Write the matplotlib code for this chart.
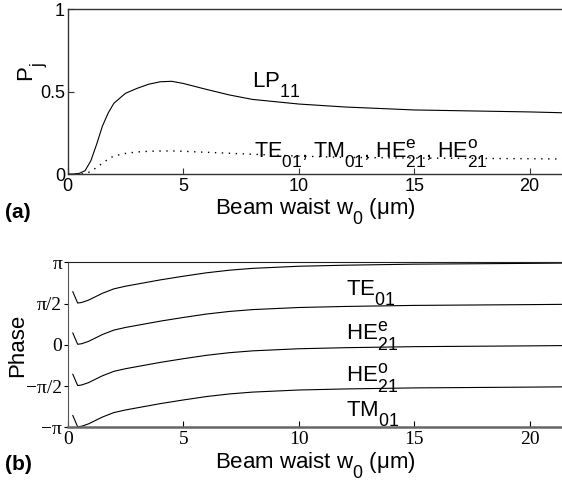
import numpy as np
import matplotlib
matplotlib.use('Agg')
import matplotlib.pyplot as plt
import matplotlib._mathtext as mathtext_internal

# Крупные и низко опущенные индексы, как в исходном рисунке.
mathtext_internal.SHRINK_FACTOR = 0.8
mathtext_internal.FontConstantsBase.sub1 = 0.9
mathtext_internal.FontConstantsBase.sub2 = 0.9
mathtext_internal.FontConstantsBase.script_space = 0.02

plt.rcParams['font.family'] = ['Liberation Sans', 'DejaVu Sans']
plt.rcParams['mathtext.fontset'] = 'custom'
plt.rcParams['mathtext.rm'] = 'Liberation Sans'
plt.rcParams['mathtext.it'] = 'Liberation Sans:italic'
plt.rcParams['mathtext.default'] = 'regular'

# Данные панели (a): доли мощности.
w_power = [0, 0.3, 0.5, 0.75, 1.0, 1.25, 1.5, 1.75, 2.0, 2.5, 3, 3.5, 4, 4.5,
           5, 6, 7, 8, 10, 12, 15, 20, 21.4]
p_lp11 = [0, 0, 0.004, 0.02, 0.08, 0.18, 0.29, 0.37, 0.43, 0.49, 0.52, 0.545,
          0.56, 0.563, 0.55, 0.514, 0.48, 0.453, 0.425, 0.407, 0.389, 0.377, 0.372]
p_modes = [0, 0, 0, 0.002, 0.015, 0.04, 0.065, 0.09, 0.11, 0.125, 0.134, 0.138,
           0.14, 0.14, 0.138, 0.132, 0.126, 0.12, 0.109, 0.101, 0.097, 0.093, 0.091]

# Данные панели (b): набег фазы относительно начального значения.
w_phase = [0.22, 0.43, 0.6, 0.9, 1.2, 1.5, 2.0, 2.5, 3, 4, 5, 6, 7, 8, 10, 12,
           15, 20, 21.4]
phase_rise = [0.45, 0.02, 0.04, 0.13, 0.26, 0.39, 0.56, 0.66, 0.74, 0.90, 1.04,
              1.17, 1.27, 1.34, 1.42, 1.46, 1.50, 1.53, 1.54]
phase_base = [np.pi / 2, 0, -np.pi / 2, -np.pi]
phase_names = ['TE$_{01}$', 'HE$_{21}^{e}$', 'HE$_{21}^{o}$', 'TM$_{01}$']
phase_label_y = [1.896, 0.183, -1.406, -2.738]

x_ticks = [0, 5, 10, 15, 20]
phase_ticks = [-np.pi, -np.pi / 2, 0, np.pi / 2, np.pi]
phase_tick_labels = ['\u2212\u03c0', '\u2212\u03c0/2', '0', '\u03c0/2', '\u03c0']

fig = plt.figure(figsize=(5.62, 4.88), dpi=100)

# Панель (a).
ax1 = fig.add_axes([0.1205, 0.6434, 0.8795, 0.3375])
ax1.plot(w_power, p_lp11, color='black', lw=0.8)
ax1.plot(w_power, p_modes, color='black', lw=1.0, linestyle=(0, (1, 4)))
ax1.set_xlim(0, 21.4)
ax1.set_ylim(0, 1)
ax1.set_xticks(x_ticks)
ax1.set_yticks([0, 0.5, 1])
ax1.set_yticklabels(['0', '0.5', '1'])
ax1.tick_params(direction='in', length=4, labelsize=13, pad=2, color='#333333')
ax1.tick_params(axis='x', pad=3)
ax1.spines['right'].set_visible(False)
for s in ['left', 'top', 'bottom']:
    ax1.spines[s].set_color('#333333')
    ax1.spines[s].set_linewidth(1.0)
ax1.text(8.0, 0.528, 'LP$_{11}$', fontsize=16)
ax1.text(8.05, 0.105, 'TE$_{01}$, TM$_{01}$, HE$_{21}^{e}$, HE$_{21}^{o}$', fontsize=15.5)

# Панель (b).
ax2 = fig.add_axes([0.1205, 0.1244, 0.8795, 0.3381])
for base in phase_base:
    ax2.plot(w_phase, np.array(phase_rise) + base, color='black', lw=0.8)
ax2.set_xlim(0, 21.4)
ax2.set_ylim(-np.pi, np.pi)
ax2.set_xticks(x_ticks)
ax2.set_yticks(phase_ticks)
ax2.set_yticklabels(phase_tick_labels)
ax2.tick_params(axis='x', direction='in', length=4, pad=3, labelsize=14)
ax2.tick_params(axis='y', direction='out', length=3, pad=1, labelsize=14)
for lbl in ax2.get_xticklabels() + ax2.get_yticklabels():
    lbl.set_fontfamily('Liberation Serif')
ax2.spines['right'].set_visible(False)
ax2.spines['left'].set_color('#555555')
ax2.spines['top'].set_color('#222222')
ax2.spines['bottom'].set_color('#666666')
ax2.spines['bottom'].set_linewidth(1.8)
for name, y in zip(phase_names, phase_label_y):
    ax2.text(12.05, y, name, fontsize=16)

# Подписи осей и панелей.
fig.text(315 / 562, 1 - 212 / 488, 'Beam waist w$_0$ (\u03bcm)', fontsize=16,
         ha='center', va='center')
fig.text(315 / 562, 1 - 466 / 488, 'Beam waist w$_0$ (\u03bcm)', fontsize=16,
         ha='center', va='center')
fig.text(33 / 562, 1 - 72 / 488, 'P$_j$', fontsize=16, rotation=90,
         ha='center', va='center')
fig.text(18 / 562, 1 - 345 / 488, 'Phase', fontsize=16, rotation=90,
         ha='center', va='center')
fig.text(5 / 562, 1 - 213 / 488, '(a)', fontsize=15, fontweight='bold',
         ha='left', va='center')
fig.text(5 / 562, 1 - 464 / 488, '(b)', fontsize=15, fontweight='bold',
         ha='left', va='center')

fig.savefig('out.png', dpi=100)
